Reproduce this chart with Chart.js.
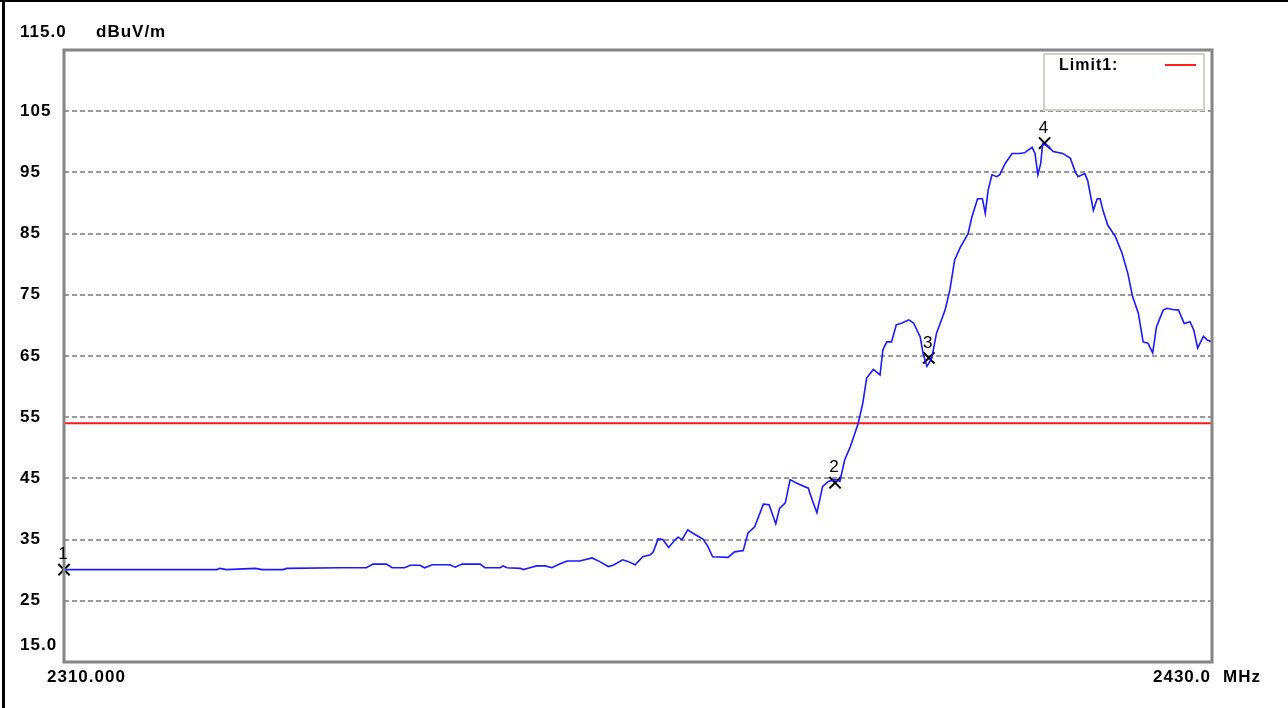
<!DOCTYPE html>
<html>
<head>
<meta charset="utf-8">
<title>Spectrum 2310-2430 MHz</title>
<script src="https://cdn.jsdelivr.net/npm/chart.js@4.4.1/dist/chart.umd.min.js"></script>
<style>
  html, body { margin: 0; padding: 0; background: #fff; }
  canvas { display: block; }
</style>
</head>
<body>
<canvas id="specChart" width="1288" height="708"></canvas>
<script>
// trace (MHz / dBuV/m)
const freqs = [
  2310.0, 2319.0, 2326.0, 2326.3, 2327.0, 2330.0, 2330.7, 2332.9, 2333.3, 2338.8,
  2341.6, 2342.3, 2343.7, 2344.3, 2345.6, 2346.2, 2347.2, 2347.7, 2348.5, 2350.3,
  2350.9, 2351.6, 2353.5, 2354.0, 2355.6, 2355.9, 2356.3, 2357.7, 2358.0, 2358.7,
  2359.4, 2360.3, 2361.0, 2361.8, 2362.6, 2363.9, 2365.2, 2366.0, 2366.9, 2367.4,
  2368.4, 2369.0, 2369.7, 2370.5, 2371.3, 2371.6, 2372.1, 2372.6, 2373.2, 2373.9,
  2374.2, 2374.6, 2375.2, 2376.0, 2376.8, 2377.3, 2377.8, 2379.4, 2380.1, 2381.0,
  2381.5, 2382.2, 2383.1, 2383.7, 2384.4, 2384.8, 2385.4, 2385.9, 2386.6, 2387.8,
  2388.2, 2388.7, 2389.3, 2389.9, 2390.6, 2391.1, 2391.6, 2392.2, 2393.0, 2393.5,
  2393.9, 2394.6, 2395.3, 2395.6, 2396.0, 2396.5, 2397.0, 2397.6, 2398.3, 2398.8,
  2399.5, 2399.8, 2400.2, 2400.7, 2401.2, 2402.1, 2402.6, 2403.1, 2403.7, 2404.5,
  2404.9, 2405.5, 2406.0, 2406.3, 2406.6, 2407.0, 2407.5, 2407.8, 2408.4, 2409.1,
  2409.9, 2410.4, 2411.2, 2411.5, 2411.8, 2412.1, 2412.3, 2412.9, 2413.4, 2414.4,
  2415.2, 2415.7, 2416.0, 2416.7, 2417.0, 2417.6, 2418.0, 2418.3, 2418.6, 2419.1,
  2419.9, 2420.6, 2421.2, 2421.7, 2422.3, 2422.8, 2423.3, 2423.8, 2424.2, 2424.9,
  2425.3, 2425.9, 2426.5, 2427.1, 2427.7, 2428.1, 2428.5, 2429.1, 2429.5, 2430.0
];
const levels = [
  30.1, 30.1, 30.1, 30.3, 30.1, 30.3, 30.1, 30.1, 30.3, 30.4,
  30.4, 31.0, 31.0, 30.4, 30.4, 30.8, 30.8, 30.4, 30.9, 30.9,
  30.5, 31.0, 31.0, 30.4, 30.4, 30.7, 30.4, 30.3, 30.1, 30.4,
  30.7, 30.7, 30.4, 31.0, 31.5, 31.5, 32.0, 31.4, 30.6, 30.8,
  31.7, 31.4, 30.9, 32.2, 32.5, 33.0, 35.1, 35.0, 33.7, 35.0,
  35.4, 35.0, 36.6, 35.8, 35.1, 33.9, 32.2, 32.1, 33.0, 33.2,
  36.1, 37.1, 40.8, 40.7, 37.6, 40.1, 41.0, 44.8, 44.2, 43.4,
  41.5, 39.4, 43.7, 44.5, 44.8, 44.5, 48.0, 50.2, 53.9, 57.3,
  61.4, 62.8, 61.9, 66.0, 67.3, 67.3, 70.1, 70.4, 70.9, 70.4,
  68.1, 65.4, 63.3, 64.6, 68.7, 72.5, 75.8, 80.7, 82.8, 85.0,
  87.7, 90.7, 90.7, 88.3, 92.1, 94.6, 94.3, 94.6, 96.5, 98.1,
  98.1, 98.2, 99.1, 98.1, 94.6, 96.5, 99.7, 99.2, 98.4, 98.1,
  97.3, 95.1, 94.3, 94.8, 93.7, 88.8, 90.7, 90.7, 88.8, 86.4,
  84.5, 81.8, 78.5, 74.7, 72.0, 67.3, 67.1, 65.5, 69.8, 72.5,
  72.8, 72.6, 72.5, 70.3, 70.6, 69.2, 66.3, 68.2, 67.6, 67.3
];

const limitFreqs = [2310, 2430];
const limitLevels = [54, 54];

const markerNames = ['1', '2', '3', '4'];
const markerFreqs = [2310.0, 2390.6, 2400.4, 2412.5];
const markerLevels = [30.1, 44.3, 64.7, 99.8];

const gridValues = [105, 95, 85, 75, 65, 55, 45, 35, 25];
const yTickValues = [115, 105, 95, 85, 75, 65, 55, 45, 35, 25, 15];
const yTickLabels = ['115.0', '105', '95', '85', '75', '65', '55', '45', '35', '25', '15.0'];
const xStartLabel = '2310.000';
const xEndLabel = '2430.0';
const xUnit = 'MHz';
const yUnit = 'dBuV/m';
const legendLabel = 'Limit1:';

const FONT = "'Liberation Sans', Arial, sans-serif";

const toPoints = (xs, ys) => xs.map((x, i) => ({ x: x, y: ys[i] }));

// grid, frame, labels, legend and marker numbers
const analyzerPlugin = {
  id: 'analyzer',
  beforeDatasetsDraw(chart) {
    const ctx = chart.ctx;
    const a = chart.chartArea;
    const ys = chart.scales.y;
    ctx.save();
    ctx.strokeStyle = '#9a9a9a';
    ctx.lineWidth = 2;
    ctx.setLineDash([5, 3]);
    gridValues.forEach(v => {
      const py = Math.round(ys.getPixelForValue(v));
      ctx.beginPath();
      ctx.moveTo(a.left, py);
      ctx.lineTo(a.right, py);
      ctx.stroke();
    });
    ctx.restore();
  },
  afterDraw(chart) {
    const ctx = chart.ctx;
    const a = chart.chartArea;
    const xs = chart.scales.x;
    const ys = chart.scales.y;
    ctx.save();

    // outer black edge (left and top)
    ctx.fillStyle = '#000';
    ctx.fillRect(2, 0, 3, chart.height);
    ctx.fillRect(0, 0, chart.width, 2);

    // plot frame
    ctx.strokeStyle = '#858585';
    ctx.lineWidth = 3;
    ctx.strokeRect(a.left, a.top, a.right - a.left, a.bottom - a.top);

    // y labels
    ctx.fillStyle = '#000';
    ctx.font = 'bold 17px ' + FONT;
    ctx.letterSpacing = '1px';
    ctx.textAlign = 'left';
    ctx.textBaseline = 'middle';
    yTickValues.forEach((v, i) => {
      let py = ys.getPixelForValue(v);
      if (i === 0) py -= 18;
      if (i === yTickValues.length - 1) py -= 17;
      ctx.fillText(yTickLabels[i], 20, py);
    });
    ctx.fillText(yUnit, 96, ys.getPixelForValue(115) - 18);

    // x labels
    const by = a.bottom + 15;
    ctx.fillText(xStartLabel, 47, by);
    ctx.textAlign = 'right';
    ctx.fillText(xEndLabel, 1211, by);
    ctx.textAlign = 'left';
    ctx.fillText(xUnit, 1223, by);

    // legend box
    ctx.strokeStyle = '#d4d0c8';
    ctx.lineWidth = 2;
    ctx.strokeRect(1044, 54, 160, 56);
    ctx.font = 'bold 16px ' + FONT;
    ctx.fillText(legendLabel, 1059, 66);
    ctx.letterSpacing = '0px';
    ctx.strokeStyle = '#ff2020';
    ctx.lineWidth = 2;
    ctx.beginPath();
    ctx.moveTo(1165, 65);
    ctx.lineTo(1196, 65);
    ctx.stroke();

    // marker numbers
    const meta = chart.getDatasetMeta(2);
    ctx.font = '17px ' + FONT;
    ctx.textAlign = 'center';
    ctx.textBaseline = 'middle';
    ctx.fillStyle = '#000';
    meta.data.forEach((pt, i) => {
      ctx.fillText(markerNames[i], pt.x - 1, pt.y - 15);
    });
    ctx.restore();
  }
};

const ctx = document.getElementById('specChart').getContext('2d');
new Chart(ctx, {
  type: 'line',
  data: {
    datasets: [
      {
        label: 'Trace',
        data: toPoints(freqs, levels),
        borderColor: '#1a1aff',
        borderWidth: 1.6,
        pointRadius: 0,
        tension: 0
      },
      {
        label: 'Limit1',
        data: toPoints(limitFreqs, limitLevels),
        borderColor: '#ff1a1a',
        borderWidth: 2,
        pointRadius: 0,
        tension: 0
      },
      {
        label: 'Markers',
        type: 'scatter',
        data: toPoints(markerFreqs, markerLevels),
        pointStyle: 'crossRot',
        pointRadius: 8,
        borderColor: '#000',
        borderWidth: 2,
        showLine: false,
        clip: false
      }
    ]
  },
  options: {
    responsive: false,
    animation: false,
    layout: { padding: { left: 64, top: 50, right: 76, bottom: 46 } },
    plugins: {
      legend: { display: false },
      tooltip: { enabled: false }
    },
    scales: {
      x: { type: 'linear', min: 2310, max: 2430, display: false },
      y: { min: 15, max: 115, display: false }
    }
  },
  plugins: [analyzerPlugin]
});
</script>
</body>
</html>
